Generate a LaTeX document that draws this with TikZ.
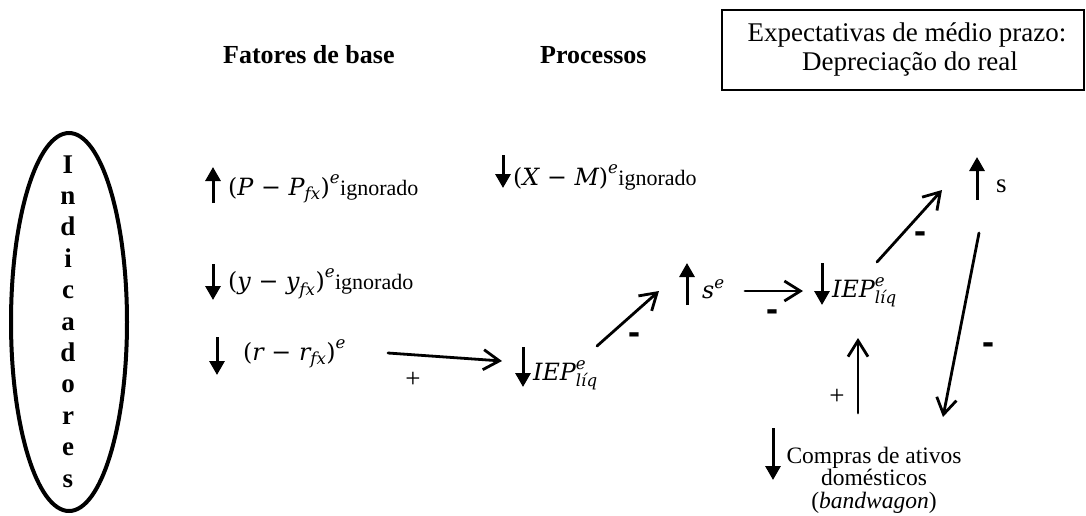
\RequirePackage{fix-cm}
\documentclass[tikz,border=0pt]{standalone}
\usepackage{amsmath}
\usepackage{fontspec}
\setmainfont{Liberation Serif}
\newfontfamily\signfont{DejaVu Sans}
\newfontfamily\varfont[Scale=0.95]{DejaVu Serif}
\usetikzlibrary{arrows.meta}

% variables, operators and brackets of the formulas
\newcommand\vi[1]{\text{\varfont\itshape #1}}
\newcommand\mn{\mathbin{\mkern1.5mu\text{\varfont −}\mkern1.5mu}}
\newcommand\lp{\text{\varfont (}}
\newcommand\rp{\text{\varfont )}}
\newcommand\fsize{\fontsize{25}{30}\selectfont}

\begin{document}
\begin{tikzpicture}[x=1pt,y=-1pt,
  txt/.style={inner sep=0pt, font=\fontsize{22}{27}\selectfont},
  cmptxt/.style={inner sep=0pt, font=\fontsize{23.5}{27}\selectfont},
  hdr/.style={inner sep=0pt, font=\fontsize{26}{31}\selectfont\bfseries},
  boxtxt/.style={inner sep=0pt, align=center, font=\fontsize{27}{29.5}\selectfont},
  lettr/.style={inner sep=0pt, anchor=base, font=\fontsize{27}{30}\selectfont\bfseries},
  trend/.style={line width=3pt, -{Triangle[length=14pt,width=15pt]}},
  link/.style={line width=2.8pt, line cap=round, -{Straight Barb[length=16pt,width=20pt]}},
  plus/.style={inner sep=0pt, font=\fontsize{27}{30}\selectfont},
  minus/.style={inner sep=0pt, font=\signfont\bfseries\fontsize{30}{30}\selectfont},
]
\useasboundingbox (0,0) rectangle (1086,515);

% column headings
\node[hdr, anchor=base west] (hbase) at (223,63) {Fatores de base};
\node[hdr, anchor=base west] (hproc) at (540,63) {Processos};

% framed expectation box
\draw[line width=2pt] (722,10) rectangle (1084,90);
\node[boxtxt, anchor=base] (exp1) at (907,41) {Expectativas de médio prazo:};
\node[boxtxt, anchor=base] (exp2) at (910,70) {Depreciação do real};

% indicator ellipse with vertical lettering
\draw[line width=4pt] (69,322) ellipse [x radius=58, y radius=189];
\foreach \ch [count=\k from 0] in {I,n,d,i,c,a,d,o,r,e,s}
  \node[lettr] (ind\k) at (68,{173+31.4*\k}) {\ch};

% base factors
\draw[trend] (213,203) -- (213,167);
\node[txt, anchor=base west] (pp) at (228,195) {{\fsize$\lp\vi{P}\mn\vi{P}_{\vi{fx}}\rp^{\vi{e}}$}ignorado};
\draw[trend] (213,264) -- (213,300);
\node[txt, anchor=base west] (yy) at (228,289) {{\fsize$\lp\vi{y}\mn\vi{y}_{\vi{fx}}\rp^{\vi{e}}$}ignorado};
\draw[trend] (217,337) -- (217,375);
\node[txt, anchor=base west] (rr) at (243,360) {{\fsize$\lp\vi{r}\mn\vi{r}_{\vi{fx}}\rp^{\vi{e}}$}};

% processes
\draw[trend] (503,155) -- (503,188);
\node[txt, anchor=base west] (xm) at (513,185) {{\fsize$\lp\vi{X}\mn\vi{M}\rp^{\vi{e}}$}ignorado};

\draw[trend] (523,347) -- (523,387);
\node[txt, anchor=base west] (iep1) at (533,380) {{\fsize$\vi{IEP}^{\vi{e}}_{\vi{líq}}$}};

\draw[trend] (687,305) -- (687,263);
\node[txt, anchor=base west] (se) at (702,298) {{\fsize$\vi{s}^{\vi{e}}$}};

\draw[trend] (822,263) -- (822,305);
\node[txt, anchor=base west] (iep2) at (832,297) {{\fsize$\vi{IEP}^{\vi{e}}_{\vi{líq}}$}};

\draw[trend] (977,200) -- (977,157);
\node[txt, anchor=base west, font=\fontsize{27}{30}\selectfont] (s) at (996,192) {s};

\draw[trend] (773,428) -- (773,480);
\node[cmptxt, anchor=base] (cmp1) at (874,463) {Compras de ativos};
\node[cmptxt, anchor=base] (cmp2) at (874,485) {domésticos};
\node[cmptxt, anchor=base] (cmp3) at (874,508) {(\textit{bandwagon})};

% connector end points
\coordinate (c1a) at (388,353);  \coordinate (c1b) at (502,361);
\coordinate (c2a) at (597,346);  \coordinate (c2b) at (659,291);
\coordinate (c3a) at (745,291);  \coordinate (c3b) at (803,291);
\coordinate (c4a) at (877,262);  \coordinate (c4b) at (942,190);
\coordinate (c5a) at (979,233);  \coordinate (c5b) at (943,417);
\coordinate (c6a) at (858,413);  \coordinate (c6b) at (858,338);

\draw[link] (c1a) -- (c1b);
\draw[link] (c2a) -- (c2b);
\draw[link] (c3a) -- (c3b);
\draw[link] (c4a) -- (c4b);
\draw[link] (c5a) -- (c5b);
\draw[link] (c6a) -- (c6b);

% signs of the links
\node[plus]  (s1) at (413,380) {+};
\node[minus] (s2) at (634,338) {-};
\node[minus] (s3) at (772,315) {-};
\node[minus] (s4) at (920,237) {-};
\node[minus] (s5) at (988,348) {-};
\node[plus]  (s6) at (837,397) {+};
\end{tikzpicture}
\end{document}
